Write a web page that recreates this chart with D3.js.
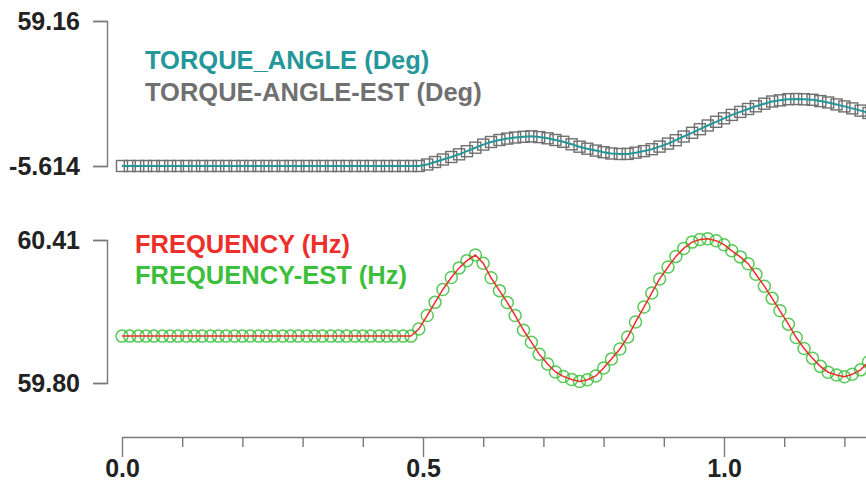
<!DOCTYPE html>
<html><head><meta charset="utf-8">
<script src="https://cdn.jsdelivr.net/npm/d3@7"></script>
<style>body{margin:0;background:#fff}svg{display:block}</style>
</head><body><svg id="c" width="866" height="491"></svg>
<script>
const time = [
0.000,0.013,0.027,0.040,0.053,0.067,0.080,0.093,0.107,0.120,
0.133,0.147,0.160,0.173,0.187,0.200,0.213,0.227,0.240,0.253,
0.267,0.280,0.293,0.307,0.320,0.333,0.347,0.360,0.373,0.387,
0.400,0.413,0.427,0.440,0.453,0.467,0.480,0.493,0.507,0.520,
0.533,0.547,0.560,0.573,0.587,0.600,0.613,0.627,0.640,0.653,
0.667,0.680,0.693,0.707,0.720,0.733,0.747,0.760,0.773,0.787,
0.800,0.813,0.827,0.840,0.853,0.867,0.880,0.893,0.907,0.920,
0.933,0.947,0.960,0.973,0.987,1.000,1.013,1.027,1.040,1.053,
1.067,1.080,1.093,1.107,1.120,1.133,1.147,1.160,1.173,1.187,
1.200,1.213,1.227,1.240];

const torqueAngle = [
-5.614,-5.614,-5.614,-5.614,-5.614,-5.614,-5.614,-5.614,-5.614,-5.614,
-5.614,-5.614,-5.614,-5.614,-5.614,-5.614,-5.614,-5.614,-5.614,-5.614,
-5.614,-5.614,-5.614,-5.614,-5.614,-5.614,-5.614,-5.614,-5.614,-5.614,
-5.614,-5.614,-5.614,-5.614,-5.614,-5.614,-5.614,-5.614,
-4.94,-3.83,-2.71,-1.59,-0.39,1.00,2.56,3.95,5.11,6.00,
6.63,7.12,7.43,7.65,7.30,6.76,6.00,5.20,4.08,3.01,
2.11,1.27,0.55,-0.03,-0.25,-0.21,0.33,1.04,1.89,3.05,
4.39,5.91,7.56,9.22,10.83,12.48,14.13,15.69,17.21,18.55,
19.85,21.05,22.22,23.20,23.73,24.23,24.32,24.18,23.96,23.38,
22.75,21.90,21.01,20.12,19.13,18.06];

const torqueAngleEst = [
-5.614,-5.614,-5.614,-5.614,-5.614,-5.614,-5.614,-5.614,-5.614,-5.614,
-5.614,-5.614,-5.614,-5.614,-5.614,-5.614,-5.614,-5.614,-5.614,-5.614,
-5.614,-5.614,-5.614,-5.614,-5.614,-5.614,-5.614,-5.614,-5.614,-5.614,
-5.614,-5.614,-5.614,-5.614,-5.614,-5.614,-5.614,-5.614,
-4.94,-3.83,-2.71,-1.59,-0.39,1.00,2.56,3.95,5.11,6.00,
6.63,7.12,7.43,7.65,7.30,6.76,6.00,5.20,4.08,3.01,
2.11,1.27,0.55,-0.03,-0.25,-0.21,0.33,1.04,1.89,3.05,
4.39,5.91,7.56,9.22,10.83,12.48,14.13,15.69,17.21,18.55,
19.85,21.05,22.22,23.20,23.73,24.23,24.32,24.18,23.96,23.38,
22.75,21.90,21.01,20.12,19.13,18.06];

const frequency = [
60.000,60.000,60.000,60.000,60.000,60.000,60.000,60.000,60.000,60.000,
60.000,60.000,60.000,60.000,60.000,60.000,60.000,60.000,60.000,60.000,
60.000,60.000,60.000,60.000,60.000,60.000,60.000,60.000,60.000,60.000,
60.000,60.000,60.000,60.000,60.000,60.000,60.000,
60.030,60.088,60.144,60.199,60.250,60.291,60.322,60.346,60.311,60.249,
60.194,60.143,60.088,60.025,59.974,59.923,59.881,59.847,59.828,59.815,
59.806,59.814,59.830,59.864,59.902,59.945,59.996,60.060,60.124,60.184,
60.244,60.295,60.340,60.374,60.401,60.412,60.415,60.407,60.390,60.364,
60.338,60.309,60.264,60.213,60.161,60.108,60.051,59.994,59.947,59.906,
59.871,59.846,59.834,59.827,59.837,59.856,59.890];

const frequencyEst = [
60.000,60.000,60.000,60.000,60.000,60.000,60.000,60.000,60.000,60.000,
60.000,60.000,60.000,60.000,60.000,60.000,60.000,60.000,60.000,60.000,
60.000,60.000,60.000,60.000,60.000,60.000,60.000,60.000,60.000,60.000,
60.000,60.000,60.000,60.000,60.000,60.000,60.000,
60.030,60.088,60.144,60.199,60.250,60.291,60.322,60.346,60.311,60.249,
60.194,60.143,60.088,60.025,59.974,59.923,59.881,59.847,59.828,59.815,
59.806,59.814,59.830,59.864,59.902,59.945,59.996,60.060,60.124,60.184,
60.244,60.295,60.340,60.374,60.401,60.412,60.415,60.407,60.390,60.364,
60.338,60.309,60.264,60.213,60.161,60.108,60.051,59.994,59.947,59.906,
59.871,59.846,59.834,59.827,59.837,59.856,59.890];

const torqueTicks = [-5.614, 59.16];
const torqueTickLabels = ["-5.614", "59.16"];
const freqTicks = [59.80, 60.41];
const freqTickLabels = ["59.80", "60.41"];
const timeTicks = [0, 0.5, 1.0];
const timeTickLabels = ["0.0", "0.5", "1.0"];
const timeMinorTicks = [0.1,0.2,0.3,0.4,0.6,0.7,0.8,0.9,1.1,1.2];
const torqueLegend = ["TORQUE_ANGLE (Deg)", "TORQUE-ANGLE-EST (Deg)"];
const freqLegend = ["FREQUENCY (Hz)", "FREQUENCY-EST (Hz)"];

const svg = d3.select("#c");
const FONT = "'Liberation Sans', Arial, sans-serif";
const C_TEAL = "#23979a", C_GRAY = "#707070", C_RED = "#ec2f2a", C_GREEN = "#3cbf3c";

const x = d3.scaleLinear().domain([0, 744/602]).range([122, 866]);
const yT = d3.scaleLinear().domain([-5.614, 59.16]).range([166, 21]);
const yF = d3.scaleLinear().domain([59.80, 60.41]).range([383, 240]);

function styleAxis(g) {
  g.selectAll("path, line").attr("stroke", "#7a7a7a").attr("stroke-width", 1.4);
  g.selectAll("text").attr("font-family", FONT).attr("font-size", 25)
    .attr("font-weight", "bold").attr("fill", "#222");
}

// left axes (bracket style)
const axT = svg.append("g").attr("transform", "translate(107,0)")
  .call(d3.axisLeft(yT).tickValues(torqueTicks).tickSizeInner(14).tickSizeOuter(14).tickPadding(13)
    .tickFormat((d, i) => torqueTickLabels[i]));
styleAxis(axT);
const axF = svg.append("g").attr("transform", "translate(107,0)")
  .call(d3.axisLeft(yF).tickValues(freqTicks).tickSizeInner(14).tickSizeOuter(14).tickPadding(13)
    .tickFormat((d, i) => freqTickLabels[i]));
styleAxis(axF);

// bottom axis
const axB = svg.append("g").attr("transform", "translate(0,437)")
  .call(d3.axisBottom(x).tickValues(timeTicks).tickSizeInner(20).tickSizeOuter(0).tickPadding(2)
    .tickFormat((d, i) => timeTickLabels[i]));
styleAxis(axB);
const axBm = svg.append("g").attr("transform", "translate(0,437)")
  .call(d3.axisBottom(x).tickValues(timeMinorTicks).tickSizeInner(10).tickSizeOuter(0).tickFormat(""));
styleAxis(axBm);
axBm.select(".domain").remove();

// torque panel
const tData = time.map((t, i) => ({t, v: torqueAngle[i], e: torqueAngleEst[i]}));
const lineT = d3.line().x(d => x(d.t)).y(d => yT(d.v));
svg.append("g").selectAll("rect").data(tData).join("rect")
  .attr("x", d => x(d.t) - 5.5).attr("y", d => yT(d.e) - 5.5)
  .attr("width", 11).attr("height", 11)
  .attr("fill", "none").attr("stroke", C_GRAY).attr("stroke-width", 1.4);
svg.append("path").datum(tData).attr("d", lineT)
  .attr("fill", "none").attr("stroke", C_TEAL).attr("stroke-width", 2);

// frequency panel
const fData = time.map((t, i) => ({t, v: frequency[i], e: frequencyEst[i]}));
const lineF = d3.line().x(d => x(d.t)).y(d => yF(d.v));
svg.append("g").selectAll("circle").data(fData).join("circle")
  .attr("cx", d => x(d.t)).attr("cy", d => yF(d.e)).attr("r", 6)
  .attr("fill", "none").attr("stroke", C_GREEN).attr("stroke-width", 1.5).attr("stroke-opacity", 0.85);
svg.append("path").datum(fData).attr("d", lineF)
  .attr("fill", "none").attr("stroke", C_RED).attr("stroke-width", 1.5);

// legends
const legT = svg.append("g");
legT.selectAll("text").data(torqueLegend).join("text")
  .attr("x", 145).attr("y", (d, i) => 69 + i * 32)
  .attr("fill", (d, i) => i === 0 ? C_TEAL : C_GRAY)
  .attr("font-family", FONT).attr("font-size", 25.5).attr("font-weight", "bold")
  .text(d => d);
const legF = svg.append("g");
legF.selectAll("text").data(freqLegend).join("text")
  .attr("x", 135).attr("y", (d, i) => 253 + i * 31)
  .attr("fill", (d, i) => i === 0 ? C_RED : C_GREEN)
  .attr("font-family", FONT).attr("font-size", 25.5).attr("font-weight", "bold")
  .text(d => d);
</script></body></html>
